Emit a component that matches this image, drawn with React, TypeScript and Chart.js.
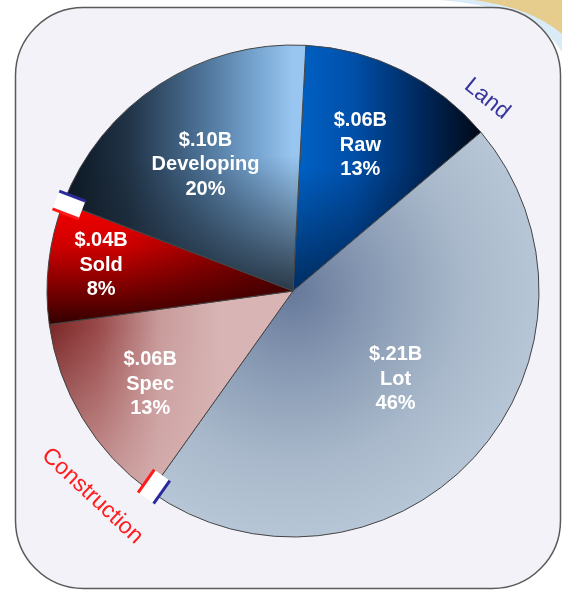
import React, { useEffect, useRef } from 'react';
import { Chart, registerables } from 'chart.js';

Chart.register(...registerables);

// ---------- data ----------
const categories = ['Raw', 'Lot', 'Spec', 'Sold', 'Developing'];
const amounts = ['$.06B', '$.21B', '$.06B', '$.04B', '$.10B'];
const shares = [13, 46, 13, 8, 20];
const groups = ['Land', 'Land', 'Construction', 'Construction', 'Land'];

// ---------- styles ----------
const W = 562;
const H = 592;
const RADIUS = 246;
const labelDist = [0.653, 0.55, 0.694, 0.787, 0.625];
const labelAngleShift = [-1.6, -1.9, -2.0, 1.0, -1.7];
const groupColors: Record<string, string> = { Land: '#2a2a9c', Construction: '#ff1a1a' };
const groupLabels = [
  { text: 'Land', angle: 45.3, dist: 273, rotate: 39, color: '#36369e' },
  { text: 'Construction', angle: 224.4, dist: 287, rotate: 43, color: '#ff1c1c' },
];

type Painter = (g: CanvasRenderingContext2D, cx: number, cy: number, r: number) => void;

function lin(g: CanvasRenderingContext2D, x0: number, y0: number, x1: number, y1: number, stops: [number, string][]) {
  const lg = g.createLinearGradient(x0, y0, x1, y1);
  stops.forEach(([o, c]) => lg.addColorStop(o, c));
  g.fillStyle = lg;
  g.fillRect(0, 0, W, H);
}

const painters: Painter[] = [
  // Raw
  (g, cx, cy, r) => {
    lin(g, cx, 0, cx + 0.8 * r, 0, [[0, '#0062c6'], [0.3, '#0050aa'], [0.65, '#00285c'], [1, '#00040c']]);
    lin(g, 0, cy - 0.5 * r, 0, cy, [[0, 'rgba(0,10,30,0)'], [1, 'rgba(0,10,30,0.6)']]);
  },
  // Lot
  (g, cx, cy, r) => {
    const rg = g.createRadialGradient(cx, cy, 0, cx, cy, r);
    rg.addColorStop(0, '#67799a');
    rg.addColorStop(0.35, '#8a9cb5');
    rg.addColorStop(0.7, '#a9b9cb');
    rg.addColorStop(1, '#b6c6d6');
    g.fillStyle = rg;
    g.fillRect(0, 0, W, H);
  },
  // Spec
  (g, cx, cy, r) => {
    lin(g, cx - r, 0, cx - 0.3 * r, 0, [[0, '#7a2626'], [0.3, '#9a4a4a'], [0.65, '#c89a9a'], [1, '#d8b4b4']]);
    lin(g, 0, cy + 0.15 * r, 0, cy + 0.75 * r, [[0, 'rgba(216,178,178,0)'], [1, 'rgba(216,178,178,0.7)']]);
  },
  // Sold
  (g, cx, cy, r) => {
    lin(g, 0, cy - 0.36 * r, 0, cy + 0.14 * r, [[0, '#f40000'], [0.35, '#d00000'], [0.7, '#7a0000'], [1, '#300000']]);
    lin(g, cx - 0.7 * r, 0, cx, 0, [[0, 'rgba(30,0,0,0)'], [1, 'rgba(30,0,0,0.6)']]);
  },
  // Developing
  (g, cx, cy, r) => {
    lin(g, cx - 0.95 * r, 0, cx, 0, [[0, '#08121c'], [0.3, '#213448'], [0.6, '#4b7094'], [0.85, '#78a6d2'], [1, '#98c6f0']]);
    lin(g, 0, cy - 0.55 * r, 0, cy, [[0, 'rgba(22,32,42,0)'], [1, 'rgba(22,32,42,0.85)']]);
  },
];
const fallbackColors = ['#0050aa', '#9aacc0', '#b87878', '#c00000', '#4b7094'];

function sliceFill(context: any) {
  const chart = context.chart;
  const i = context.dataIndex;
  const area = chart.chartArea;
  if (!area || i === undefined) return fallbackColors[i ?? 0];
  const cache = (chart.$fills = chart.$fills || {});
  if (cache[i]) return cache[i];
  const cx = (area.left + area.right) / 2;
  const cy = (area.top + area.bottom) / 2;
  const cnv = document.createElement('canvas');
  cnv.width = chart.width;
  cnv.height = chart.height;
  const g = cnv.getContext('2d')!;
  painters[i](g, cx, cy, RADIUS);
  const pat = chart.ctx.createPattern(cnv, 'no-repeat');
  cache[i] = pat;
  return pat;
}

const backgroundPlugin = {
  id: 'panelBackground',
  beforeDraw(chart: any) {
    const c = chart.ctx as CanvasRenderingContext2D;
    c.save();
    c.fillStyle = '#ffffff';
    c.fillRect(0, 0, W, H);
    c.fillStyle = '#d9ebf7';
    c.beginPath();
    c.moveTo(440, 0);
    c.quadraticCurveTo(536, 8, 562, 52);
    c.lineTo(562, 0);
    c.closePath();
    c.fill();
    c.fillStyle = '#e6cd8e';
    c.beginPath();
    c.moveTo(474, 0);
    c.quadraticCurveTo(532, 8, 562, 34);
    c.lineTo(562, 0);
    c.closePath();
    c.fill();
    const x = 15.5, y = 7.5, w = 545, h = 581, rr = 68;
    c.beginPath();
    c.moveTo(x + rr, y);
    c.lineTo(x + w - rr, y);
    c.arcTo(x + w, y, x + w, y + rr, rr);
    c.lineTo(x + w, y + h - rr);
    c.arcTo(x + w, y + h, x + w - rr, y + h, rr);
    c.lineTo(x + rr, y + h);
    c.arcTo(x, y + h, x, y + h - rr, rr);
    c.lineTo(x, y + rr);
    c.arcTo(x, y, x + rr, y, rr);
    c.closePath();
    c.fillStyle = '#f2f2f8';
    c.fill();
    c.lineWidth = 1.5;
    c.strokeStyle = '#5a5a5a';
    c.stroke();
    c.restore();
  },
};

const labelPlugin = {
  id: 'sliceLabels',
  afterDatasetsDraw(chart: any) {
    const c = chart.ctx as CanvasRenderingContext2D;
    const arcs = chart.getDatasetMeta(0).data;
    if (!arcs.length) return;
    const cx = arcs[0].x;
    const cy = arcs[0].y;
    const r = arcs[0].outerRadius;
    c.save();
    // group boundary markers
    const n = arcs.length;
    for (let i = 0; i < n; i++) {
      const j = (i + 1) % n;
      if (groups[i] === groups[j]) continue;
      const a = arcs[i].endAngle;
      c.save();
      c.translate(cx, cy);
      c.rotate(a);
      const r0 = r - 20;
      const len = 28;
      const hw = 9.5;
      c.fillStyle = '#ffffff';
      c.fillRect(r0, -hw, len, hw * 2);
      c.lineWidth = 3;
      c.strokeStyle = groupColors[groups[i]];
      c.beginPath();
      c.moveTo(r0, -hw);
      c.lineTo(r0 + len, -hw);
      c.stroke();
      c.strokeStyle = groupColors[groups[j]];
      c.beginPath();
      c.moveTo(r0, hw);
      c.lineTo(r0 + len, hw);
      c.stroke();
      c.restore();
    }
    // slice labels
    c.fillStyle = '#ffffff';
    c.font = 'bold 20px "Liberation Sans", Arial, sans-serif';
    c.textAlign = 'center';
    c.textBaseline = 'middle';
    arcs.forEach((arc: any, i: number) => {
      const mid = (arc.startAngle + arc.endAngle) / 2 + (labelAngleShift[i] * Math.PI) / 180;
      const d = arc.outerRadius * labelDist[i];
      const x = arc.x + Math.cos(mid) * d;
      const y = arc.y + Math.sin(mid) * d;
      const lines = [amounts[i], categories[i], shares[i] + '%'];
      lines.forEach((t, k) => c.fillText(t, x, y + (k - 1) * 24.5));
    });
    // group labels
    c.font = '23px "Liberation Sans", Arial, sans-serif';
    groupLabels.forEach((gl) => {
      const ang = ((gl.angle - 90) * Math.PI) / 180;
      const x = cx + Math.cos(ang) * gl.dist;
      const y = cy + Math.sin(ang) * gl.dist;
      c.save();
      c.translate(x, y);
      c.rotate((gl.rotate * Math.PI) / 180);
      c.fillStyle = gl.color;
      c.fillText(gl.text, 0, 0);
      c.restore();
    });
    c.restore();
  },
};

export default function App() {
  const ref = useRef<HTMLCanvasElement | null>(null);
  useEffect(() => {
    if (!ref.current) return;
    const chart = new Chart(ref.current, {
      type: 'pie',
      data: {
        labels: categories,
        datasets: [
          {
            data: shares,
            backgroundColor: sliceFill as any,
            borderColor: '#454545',
            borderWidth: 1,
            hoverOffset: 0,
            radius: RADIUS,
          } as any,
        ],
      },
      options: {
        responsive: false,
        animation: false,
        rotation: 3,
        events: [],
        layout: { padding: { left: 47, right: 23, top: 45, bottom: 55 } },
        plugins: {
          legend: { display: false },
          tooltip: { enabled: false },
        },
      },
      plugins: [backgroundPlugin, labelPlugin],
    });
    return () => chart.destroy();
  }, []);
  return (
    <div style={{ position: 'absolute', left: 0, top: 0, width: W, height: H }}>
      <canvas ref={ref} width={W} height={H} style={{ display: 'block', width: W, height: H }} />
    </div>
  );
}
